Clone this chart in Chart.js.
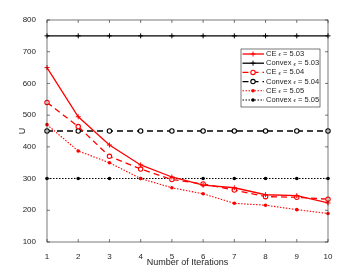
<!DOCTYPE html>
<html>
<head>
<meta charset="utf-8">
<script src="https://cdn.jsdelivr.net/npm/chart.js@4"></script>
<style>
  html, body { margin:0; padding:0; background:#fff; }
  #wrap { width:363px; height:273px; }
</style>
</head>
<body>
<div id="wrap"><canvas id="c" width="363" height="273"></canvas></div>
<script>
// ── data ──
const iterations = [1, 2, 3, 4, 5, 6, 7, 8, 9, 10];
const ce503     = [650, 495, 406, 343, 305, 279, 271, 249, 246, 223];
const convex503 = [750, 750, 750, 750, 750, 750, 750, 750, 750, 750];
const ce504     = [540, 464, 370, 330, 297, 283, 264, 243, 241, 235];
const convex504 = [450, 450, 450, 450, 450, 450, 450, 450, 450, 450];
const ce505     = [470, 387, 350, 300, 271, 252, 222, 216, 202, 190];
const convex505 = [300, 300, 300, 300, 300, 300, 300, 300, 300, 300];
const yTicks = [100, 200, 300, 400, 500, 600, 700, 800];
const seriesNames = ['CE', 'Convex', 'CE', 'Convex', 'CE', 'Convex'];
const epsValues = ['5.03', '5.03', '5.04', '5.04', '5.05', '5.05'];

const RED = '#ff0000', BLK = '#000000', AX = '#1e1e1e';
const pts = arr => iterations.map((x, i) => ({ x, y: arr[i] }));

const ds = [
  { data:pts(ce503),     borderColor:RED, backgroundColor:RED,    borderWidth:1.3, pointStyle:'cross',  pointRadius:2.5, pointBorderWidth:1, pointBorderColor:RED },
  { data:pts(convex503), borderColor:BLK, backgroundColor:BLK,    borderWidth:1.3, pointStyle:'cross',  pointRadius:2.5, pointBorderWidth:1, pointBorderColor:BLK },
  { data:pts(ce504),     borderColor:RED, backgroundColor:'#fff', borderWidth:1.3, borderDash:[6,4], pointStyle:'circle', pointRadius:2.2, pointBorderWidth:1.1, pointBorderColor:RED },
  { data:pts(convex504), borderColor:BLK, backgroundColor:'#fff', borderWidth:1.3, borderDash:[6,4], pointStyle:'circle', pointRadius:2.2, pointBorderWidth:1.1, pointBorderColor:BLK },
  { data:pts(ce505),     borderColor:RED, backgroundColor:RED,    borderWidth:1.1, borderDash:[1.5,1.5], pointStyle:'circle', pointRadius:1.8, pointBorderWidth:0, pointBorderColor:RED },
  { data:pts(convex505), borderColor:BLK, backgroundColor:BLK,    borderWidth:1.1, borderDash:[1.5,1.5], pointStyle:'circle', pointRadius:1.8, pointBorderWidth:0, pointBorderColor:BLK },
].map((d, i) => ({ ...d, label: seriesNames[i] + ' ε = ' + epsValues[i], fill:false, tension:0, clip:false }));

// box, inward ticks and legend, matlab style
const matlabBox = {
  id:'matlabBox',
  afterDatasetsDraw(chart) {
    const { ctx, chartArea:a, scales:{ x, y } } = chart;
    ctx.save();
    ctx.strokeStyle = AX; ctx.lineWidth = 0.6; ctx.setLineDash([]);
    ctx.strokeRect(a.left, a.top, a.right - a.left, a.bottom - a.top);
    ctx.beginPath();
    iterations.forEach(v => { const px = x.getPixelForValue(v);
      ctx.moveTo(px, a.bottom); ctx.lineTo(px, a.bottom - 3);
      ctx.moveTo(px, a.top); ctx.lineTo(px, a.top + 3); });
    yTicks.forEach(v => { const py = y.getPixelForValue(v);
      ctx.moveTo(a.left, py); ctx.lineTo(a.left + 3, py);
      ctx.moveTo(a.right, py); ctx.lineTo(a.right - 3, py); });
    ctx.stroke();

    // legend
    const lx = 241, ly = 49, lw = 79, lh = 58, row = 9.2;
    ctx.fillStyle = '#fff'; ctx.fillRect(lx, ly, lw, lh);
    ctx.strokeStyle = AX; ctx.lineWidth = 0.6; ctx.strokeRect(lx, ly, lw, lh);
    chart.data.datasets.forEach((d, i) => {
      const cy = ly + 5 + i * row, mx = lx + 12;
      ctx.strokeStyle = d.borderColor; ctx.lineWidth = d.borderWidth;
      ctx.setLineDash(d.borderDash || []);
      ctx.beginPath(); ctx.moveTo(lx + 1.5, cy); ctx.lineTo(lx + 23, cy); ctx.stroke();
      ctx.setLineDash([]);
      ctx.fillStyle = d.backgroundColor; ctx.strokeStyle = d.pointBorderColor;
      if (d.pointStyle === 'circle') {
        ctx.beginPath(); ctx.arc(mx, cy, d.pointRadius, 0, Math.PI * 2); ctx.fill();
        if (d.pointBorderWidth) { ctx.lineWidth = d.pointBorderWidth; ctx.stroke(); }
      } else {
        ctx.lineWidth = d.pointBorderWidth;
        ctx.beginPath();
        ctx.moveTo(mx - d.pointRadius, cy); ctx.lineTo(mx + d.pointRadius, cy);
        ctx.moveTo(mx, cy - d.pointRadius); ctx.lineTo(mx, cy + d.pointRadius);
        ctx.stroke();
      }
      // text: name, small epsilon, value
      ctx.fillStyle = AX; ctx.textBaseline = 'middle'; ctx.textAlign = 'left';
      let tx = lx + 25;
      ctx.font = '7.5px "Liberation Sans", Arial, sans-serif';
      ctx.fillText(seriesNames[i] + ' ', tx, cy); tx += ctx.measureText(seriesNames[i] + ' ').width;
      ctx.font = '5.5px "Liberation Sans", Arial, sans-serif';
      ctx.fillText('ϵ', tx, cy + 0.8); tx += ctx.measureText('ϵ').width;
      ctx.font = '7.5px "Liberation Sans", Arial, sans-serif';
      ctx.fillText(' = ' + epsValues[i], tx, cy);
    });
    ctx.restore();
  }
};

const tickFont = { family:'"Liberation Sans", Arial, sans-serif', size:8 };
const titleFont = { family:'"Liberation Sans", Arial, sans-serif', size:9 };

new Chart(document.getElementById('c'), {
  type:'line',
  data:{ datasets:ds },
  options:{
    responsive:false, animation:false,
    layout:{ padding:{ left:0, right:35, top:20, bottom:0 } },
    plugins:{ legend:{ display:false }, tooltip:{ enabled:false } },
    scales:{
      x:{ type:'linear', min:1, max:10,
          grid:{ display:false }, border:{ display:false },
          ticks:{ stepSize:1, color:AX, font:tickFont, padding:2, maxRotation:0 },
          title:{ display:true, text:'Number of Iterations', color:AX, font:titleFont, padding:{ top:0, bottom:5 } },
          afterFit: s => { s.height = 31; } },
      y:{ min:100, max:800,
          grid:{ display:false }, border:{ display:false },
          ticks:{ stepSize:100, color:AX, font:tickFont, padding:3 },
          title:{ display:true, text:'U', color:AX, font:titleFont, padding:{ top:17, bottom:0 } },
          afterFit: s => { s.width = 47; } },
    },
  },
  plugins:[matlabBox],
});
</script>
</body>
</html>
